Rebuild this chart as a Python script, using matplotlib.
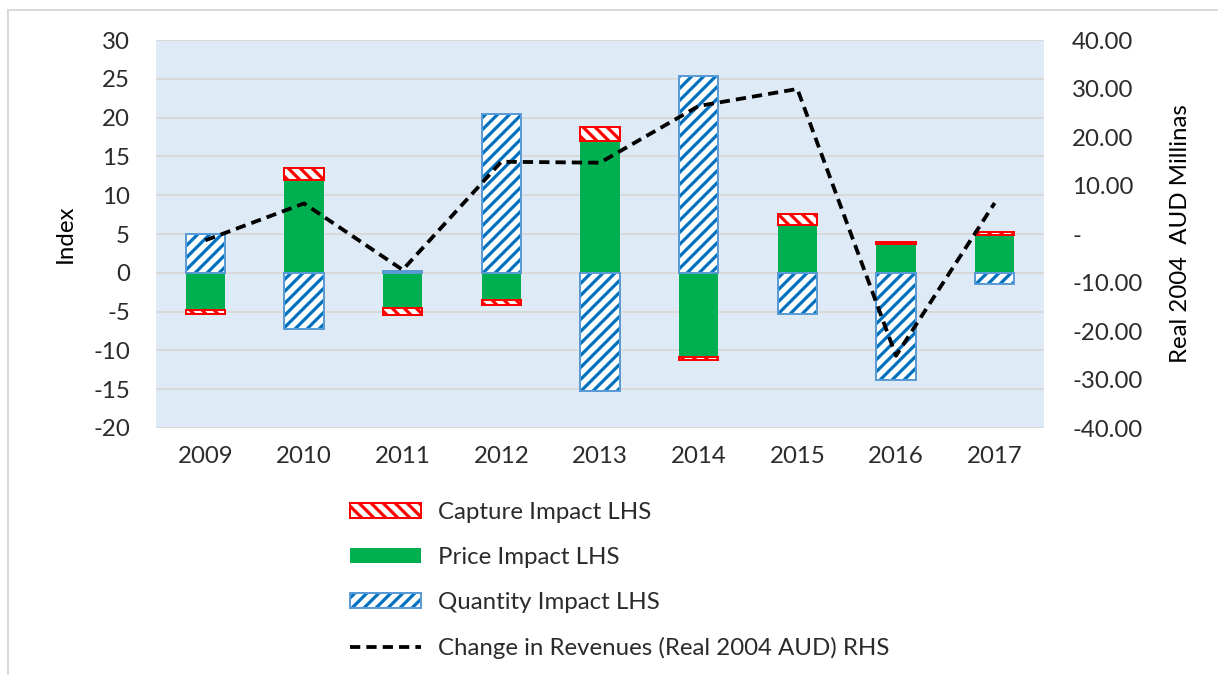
import numpy as np
import matplotlib
matplotlib.use("Agg")
import matplotlib.pyplot as plt
from matplotlib.patches import Patch
from matplotlib.lines import Line2D
from matplotlib.legend_handler import HandlerTuple

plt.rcParams['font.family'] = ['Lato', 'DejaVu Sans']
plt.rcParams['hatch.linewidth'] = 3.2
plt.rcParams['axes.unicode_minus'] = False

categories = ['2009', '2010', '2011', '2012', '2013', '2014', '2015', '2016', '2017']
price_impact = [-4.8, 12.0, -4.5, -3.5, 17.0, -10.8, 6.2, 3.7, 4.9]
capture_impact = [-0.45, 1.5, -1.0, -0.7, 1.8, -0.4, 1.4, 0.3, 0.3]
quantity_impact = [5.0, -7.2, 0.2, 20.4, -15.2, 25.4, -5.3, -13.8, -1.5]
revenue_change = [-1.3, 6.3, -7.4, 14.9, 14.7, 26.4, 29.9, -25.1, 6.4]

left_ticks = [30, 25, 20, 15, 10, 5, 0, -5, -10, -15, -20]
right_ticks = [40, 30, 20, 10, 0, -10, -20, -30, -40]

TXT = '#2b2b2b'
GREEN = '#00B050'
RED = '#FF0000'
BLUE_H = '#0070C0'
BLUE_E = '#5B9BD5'
BG = '#DEEAF6'
GRID = '#D9D9D9'
FS = 24

W, H = 1218, 675
fig = plt.figure(figsize=(W / 72, H / 72), dpi=72)
ax = fig.add_axes([156 / W, 1 - 428 / H, (1044 - 156) / W, (428 - 40) / H])
ax.set_facecolor(BG)
x = np.arange(len(categories))
bw = 0.4

pos_base = np.zeros(len(x))
neg_base = np.zeros(len(x))

def stack(vals):
    vals = np.asarray(vals, dtype=float)
    bottoms = np.where(vals >= 0, pos_base, neg_base)
    pos_base[:] += np.where(vals >= 0, vals, 0)
    neg_base[:] += np.where(vals < 0, vals, 0)
    return vals, bottoms

v, b = stack(price_impact)
ax.bar(x, v, bw, bottom=b, color=GREEN, linewidth=0, zorder=2)
v, b = stack(capture_impact)
ax.bar(x, v, bw, bottom=b, facecolor='white', edgecolor=RED, hatch='\\\\', linewidth=2, zorder=2)
v, b = stack(quantity_impact)
ax.bar(x, v, bw, bottom=b, facecolor='white', edgecolor=BLUE_H, hatch='//', linewidth=0, zorder=2)
ax.bar(x, v, bw, bottom=b, facecolor='none', edgecolor=BLUE_E, linewidth=2, zorder=3)

ax.set_xlim(-0.5, len(x) - 0.5)
ax.set_ylim(-20, 30)
ax.set_yticks(left_ticks)
ax.set_xticks(x)
ax.set_xticklabels(categories)
ax.grid(axis='y', color=GRID, linewidth=2)
ax.set_axisbelow(True)
for s in ax.spines.values():
    s.set_visible(False)
ax.tick_params(axis='both', length=0, labelsize=FS, colors=TXT)
ax.tick_params(axis='y', pad=26)
ax.tick_params(axis='x', pad=18)
ax.set_ylabel('Index', fontsize=FS, color='black', labelpad=17)

ax2 = ax.twinx()
ax2.plot(x, revenue_change, color='black', linewidth=3.8, dashes=(2.7, 1.6), zorder=5)
ax2.set_ylim(-40, 40)
ax2.set_yticks(right_ticks)
ax2.set_yticklabels(['-' if t == 0 else f'{t:.2f}' for t in right_ticks])
for s in ax2.spines.values():
    s.set_visible(False)
ax2.tick_params(axis='y', length=0, labelsize=FS, colors=TXT, pad=28)
ax2.set_ylabel('Real 2004  AUD Millinas', fontsize=FS, color='black', labelpad=28)

h_cap = Patch(facecolor='white', edgecolor=RED, hatch='\\\\', linewidth=2)
h_price = Patch(facecolor=GREEN, edgecolor='none')
h_qty = (Patch(facecolor='white', edgecolor=BLUE_H, hatch='//', linewidth=0),
         Patch(facecolor='none', edgecolor=BLUE_E, linewidth=2))
h_line = Line2D([0], [0], color='black', linewidth=3.8, dashes=(2.7, 1.6))
leg = fig.legend([h_cap, h_price, h_qty, h_line],
                 ['Capture Impact LHS', 'Price Impact LHS', 'Quantity Impact LHS',
                  'Change in Revenues (Real 2004 AUD) RHS'],
                 loc='upper left', bbox_to_anchor=(338 / W, 1 - 490 / H),
                 frameon=False, fontsize=FS, handlelength=2.95, handleheight=0.6,
                 handletextpad=0.7, labelspacing=1.0, borderpad=0,
                 handler_map={tuple: HandlerTuple(ndivide=1, pad=0)})
for t in leg.get_texts():
    t.set_color(TXT)

fig.add_artist(Line2D([8 / W, 1], [1 - 10 / H, 1 - 10 / H], transform=fig.transFigure,
                      color=GRID, linewidth=2))
fig.add_artist(Line2D([8 / W, 8 / W], [0, 1 - 10 / H], transform=fig.transFigure,
                      color=GRID, linewidth=2))

fig.savefig('out.png', dpi=72, facecolor='white')
